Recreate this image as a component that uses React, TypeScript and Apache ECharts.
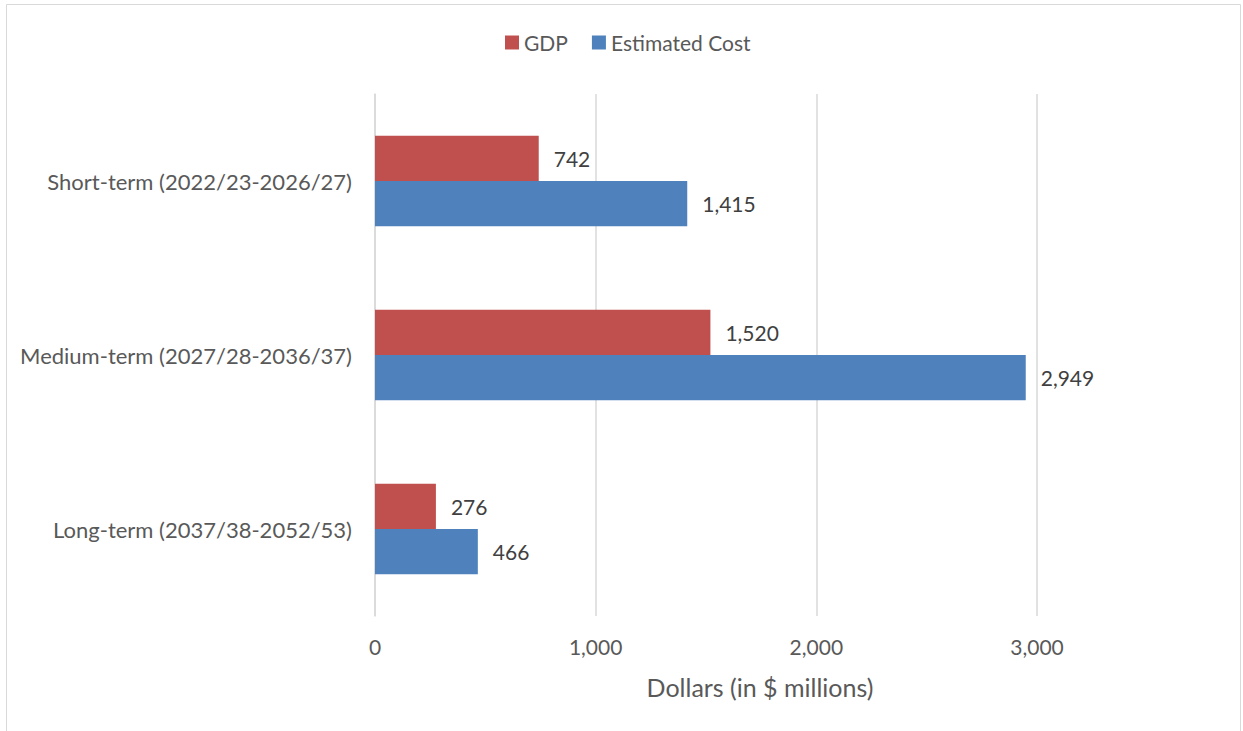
import React, { useEffect, useRef } from "react";
import * as echarts from "echarts";

const categories = [
  "Short-term (2022/23-2026/27)",
  "Medium-term (2027/28-2036/37)",
  "Long-term (2037/38-2052/53)",
];
const gdpValues = [742, 1520, 276];
const costValues = [1415, 2949, 466];
const seriesNames = ["GDP", "Estimated Cost"];
const axisTitle = "Dollars (in $ millions)";

const FONT = "Lato";
const TEXT = "#595959";

export default function App() {
  const ref = useRef<HTMLDivElement>(null);
  useEffect(() => {
    if (!ref.current) return;
    const chart = echarts.init(ref.current, undefined, { renderer: "svg" });
    const fmt = (v: number) => v.toLocaleString("en-US");
    const barLabel = {
      show: true,
      position: "right",
      distance: 15,
      fontFamily: FONT,
      fontSize: 21,
      color: "#404040",
      formatter: (p: any) => fmt(p.value),
    };
    chart.setOption({
      animation: false,
      backgroundColor: "#ffffff",
      textStyle: { fontFamily: FONT },
      legend: {
        top: 27,
        left: 500,
        itemWidth: 14,
        itemHeight: 14,
        itemGap: 24,
        icon: "rect",
        textStyle: { fontFamily: FONT, fontSize: 21, color: TEXT },
        data: seriesNames,
      },
      grid: { left: 375, right: 206, top: 94, bottom: 115, containLabel: false },
      xAxis: {
        type: "value",
        min: 0,
        max: 3000,
        interval: 1000,
        axisLine: { show: false },
        axisTick: { show: false },
        splitLine: { lineStyle: { color: "#d9d9d9", width: 1.5 } },
        axisLabel: {
          margin: 20,
          fontFamily: FONT,
          fontSize: 21,
          color: TEXT,
          formatter: (v: number) => fmt(v),
        },
      },
      yAxis: {
        type: "category",
        inverse: true,
        data: categories,
        axisLine: { show: true, lineStyle: { color: "#d9d9d9", width: 1.5 } },
        axisTick: { show: false },
        axisLabel: { margin: 23, fontFamily: FONT, fontSize: 22, color: TEXT },
      },
      graphic: [
        {
          type: "rect",
          shape: { x: 6.5, y: 4.5, width: 1234, height: 730 },
          style: { fill: "none", stroke: "#d9d9d9", lineWidth: 1 },
          silent: true,
        },
        {
          type: "text",
          x: 760,
          y: 687,
          style: {
            text: axisTitle,
            fontFamily: FONT,
            fontSize: 25,
            fill: TEXT,
            textAlign: "center",
            textVerticalAlign: "middle",
          },
        },
      ],
      series: [
        {
          name: seriesNames[0],
          type: "bar",
          data: gdpValues,
          barGap: "0%",
          barCategoryGap: "48%",
          itemStyle: { color: "#C0504D" },
          label: barLabel,
        },
        {
          name: seriesNames[1],
          type: "bar",
          data: costValues,
          barGap: "0%",
          barCategoryGap: "48%",
          itemStyle: { color: "#4F81BD" },
          label: barLabel,
        },
      ],
    });
    return () => chart.dispose();
  }, []);
  return (
    <div
      ref={ref}
      style={{ position: "fixed", left: 0, top: 0, width: 1243, height: 731 }}
    />
  );
}
